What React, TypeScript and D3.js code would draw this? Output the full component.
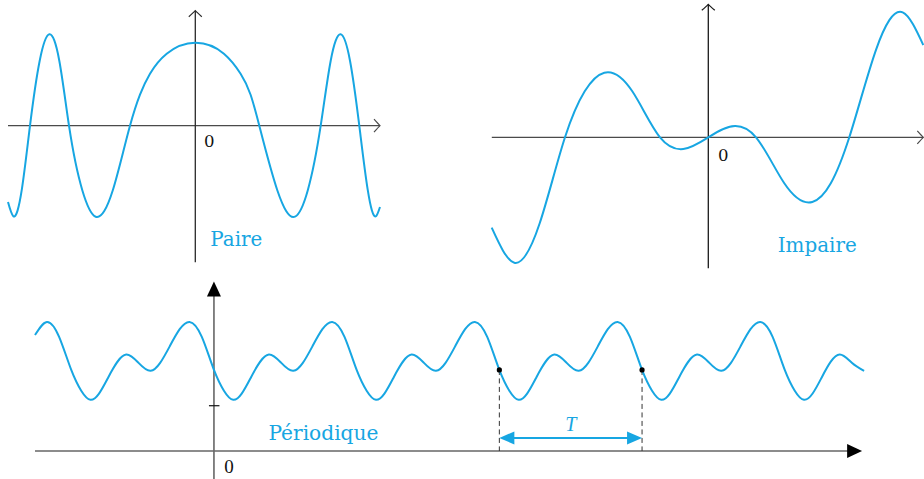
import React from 'react';
import * as d3 from 'd3';

const BLUE = '#17a6e2';

// ---- Even function ("Paire") : x, y in plot units
const paireX = [-3.746, -3.64, -3.47, -3.306, -3.112, -2.92, -2.72, -2.526, -2.26, -1.992, -1.65, -1.306, -1.106, -0.906, -0.572, 0,
  0.572, 0.906, 1.106, 1.28, 1.64, 1.994, 2.25, 2.508, 2.708, 2.908, 3.094, 3.28, 3.448, 3.614, 3.694];
const paireY = [-1.526, -1.81, -1.28, 0, 1.3, 1.828, 1.3, 0, -1.29, -1.82, -1.29, 0, 0.62, 1.04, 1.44, 1.66,
  1.44, 1.04, 0.62, 0, -1.29, -1.82, -1.29, 0, 1.3, 1.828, 1.3, 0, -1.28, -1.81, -1.626];

// ---- Odd function ("Impaire")
const impaireX = [-4.332, -3.88, -3.372, -2.866, -2.472, -2.08, -1.52, -0.966, -0.5, 0,
  0.534, 0.954, 1.52, 2.08, 2.45, 2.82, 3.354, 3.888, 4.3];
const impaireY = [-1.808, -2.508, -1.72, 0, 0.92, 1.292, 0.92, 0, -0.234, 0,
  0.226, 0, -0.92, -1.294, -0.92, 0, 1.75, 2.5, 1.846];

// ---- Periodic function (x in periods T, y in tick units)
const periodicX = [-1.254, -1.171, -1.085,
  -1, -0.93, -0.865, -0.74, -0.615, -0.53, -0.444, -0.31, -0.171, -0.085,
  0, 0.07, 0.135, 0.26, 0.385, 0.47, 0.556, 0.69, 0.829, 0.915,
  1, 1.07, 1.135, 1.26, 1.385, 1.47, 1.556, 1.69, 1.829, 1.915,
  2, 2.07, 2.135, 2.26, 2.385, 2.47, 2.556, 2.69, 2.829, 2.915,
  3, 3.07, 3.135, 3.26, 3.385, 3.47, 3.556, 3.69, 3.829, 3.915,
  4, 4.07, 4.135, 4.26, 4.385, 4.47, 4.556];
const periodicY = [2.56, 2.85, 2.52,
  1.79, 1.33, 1.13, 1.63, 2.13, 1.95, 1.77, 2.31, 2.85, 2.52,
  1.79, 1.33, 1.13, 1.63, 2.13, 1.95, 1.77, 2.31, 2.85, 2.52,
  1.79, 1.33, 1.13, 1.63, 2.13, 1.95, 1.77, 2.31, 2.85, 2.52,
  1.79, 1.33, 1.13, 1.63, 2.13, 1.95, 1.77, 2.31, 2.85, 2.52,
  1.79, 1.33, 1.13, 1.63, 2.13, 1.95, 1.77, 2.31, 2.85, 2.52,
  1.79, 1.33, 1.13, 1.63, 2.13, 1.95, 1.77];
const markedX = [2, 3];
const markedY = 1.79;
const tickY = 1;
const periodArrowY = 0.29;

const labels = { paire: 'Paire', impaire: 'Impaire', periodique: 'Périodique', zero: '0', period: 'T' };

function zip(xs: number[], ys: number[]) {
  return xs.map((x, i) => [x, ys[i]] as [number, number]);
}

// d3 curve factory: natural cubic spline with y as a function of x (non-uniform knots)
function curveNaturalX(context: any) {
  let xs: number[] = [];
  let ys: number[] = [];
  return {
    areaStart() {},
    areaEnd() {},
    lineStart() { xs = []; ys = []; },
    point(x: number, y: number) { xs.push(+x); ys.push(+y); },
    lineEnd() {
      const n = xs.length;
      if (!n) return;
      context.moveTo(xs[0], ys[0]);
      if (n === 1) return;
      if (n === 2) { context.lineTo(xs[1], ys[1]); return; }
      const h: number[] = [], d: number[] = [];
      for (let i = 0; i < n - 1; i++) { h[i] = xs[i + 1] - xs[i]; d[i] = (ys[i + 1] - ys[i]) / h[i]; }
      const M = new Array(n).fill(0);
      const a: number[] = [], b: number[] = [], c: number[] = [], r: number[] = [];
      for (let i = 1; i < n - 1; i++) {
        a[i] = h[i - 1]; b[i] = 2 * (h[i - 1] + h[i]); c[i] = h[i]; r[i] = 6 * (d[i] - d[i - 1]);
      }
      for (let i = 2; i < n - 1; i++) {
        const w = a[i] / b[i - 1];
        b[i] -= w * c[i - 1];
        r[i] -= w * r[i - 1];
      }
      for (let i = n - 2; i >= 1; i--) {
        M[i] = (r[i] - (i < n - 2 ? c[i] * M[i + 1] : 0)) / b[i];
      }
      const m: number[] = [];
      for (let i = 0; i < n - 1; i++) m[i] = d[i] - h[i] * (2 * M[i] + M[i + 1]) / 6;
      m[n - 1] = d[n - 2] + h[n - 2] * (M[n - 2] + 2 * M[n - 1]) / 6;
      for (let i = 0; i < n - 1; i++) {
        const t = h[i] / 3;
        context.bezierCurveTo(xs[i] + t, ys[i] + m[i] * t, xs[i + 1] - t, ys[i + 1] - m[i + 1] * t, xs[i + 1], ys[i + 1]);
      }
    },
  };
}

function openArrowRight(x: number, y: number) {
  return `M${x - 6},${y - 6.5} Q${x - 1.5},${y - 1.5} ${x},${y} Q${x - 1.5},${y + 1.5} ${x - 6},${y + 6.5}`;
}
function openArrowUp(x: number, y: number) {
  return `M${x - 6.5},${y + 6} Q${x - 1.5},${y + 1.5} ${x},${y} Q${x + 1.5},${y + 1.5} ${x + 6.5},${y + 6}`;
}

export default function App() {
  const pX = d3.scaleLinear().domain([-3.746, 3.694]).range([8, 380]);
  const pY = d3.scaleLinear().domain([-2.73, 2.3]).range([262.2, 10.7]);
  const iX = d3.scaleLinear().domain([-4.33, 4.3]).range([491.8, 923.3]);
  const iY = d3.scaleLinear().domain([-2.62, 2.66]).range([268.3, 4.3]);
  const qX = d3.scaleLinear().domain([-1.254, 4.542]).range([35, 862.1]);
  const qY = d3.scaleLinear().domain([-0.62, 3.74]).range([479.1, 281.6]);

  const lineP = d3.line<[number, number]>().x(d => pX(d[0])).y(d => pY(d[1])).curve(curveNaturalX as any);
  const lineI = d3.line<[number, number]>().x(d => iX(d[0])).y(d => iY(d[1])).curve(curveNaturalX as any);
  const lineQ = d3.line<[number, number]>().x(d => qX(d[0])).y(d => qY(d[1])).curve(curveNaturalX as any);

  const pdx = pX.domain(), pdy = pY.domain();
  const idx = iX.domain(), idy = iY.domain();
  const qdx = qX.domain(), qdy = qY.domain();

  const axisGray = '#4a4a4a';
  const qAxis = '#666';
  const y0q = qY(0);
  const xTip = qX(qdx[1]);
  const yTip = qY(qdy[1]);
  const ay = qY(periodArrowY);
  const ax1 = qX(markedX[0]);
  const ax2 = qX(markedX[1]);

  return (
    <div style={{ position: 'fixed', left: 0, top: 0 }}>
      <svg width={924} height={479} style={{ display: 'block', background: '#fff' }}>
        {/* ---------- Paire ---------- */}
        <g>
          <line x1={pX(pdx[0])} x2={pX(pdx[1])} y1={pY(0)} y2={pY(0)} stroke={axisGray} strokeWidth={1.3} />
          <path d={openArrowRight(pX(pdx[1]), pY(0))} fill="none" stroke={axisGray} strokeWidth={1.2} />
          <line x1={pX(0)} x2={pX(0)} y1={pY(pdy[0])} y2={pY(pdy[1])} stroke="#2a2a2a" strokeWidth={1.3} />
          <path d={openArrowUp(pX(0), pY(pdy[1]))} fill="none" stroke="#2a2a2a" strokeWidth={1.2} />
          <path d={lineP(zip(paireX, paireY)) || ''} fill="none" stroke={BLUE} strokeWidth={2} />
          <text x={pX(0) + 14} y={pY(0) + 21.5} textAnchor="middle" fontFamily="DejaVu Serif" fontSize={16.5} fill="#111">{labels.zero}</text>
          <text x={pX(0) + 15} y={pY(0) + 120} fontFamily="DejaVu Serif" fontSize={20.5} fill={BLUE} textLength={52} lengthAdjust="spacingAndGlyphs">{labels.paire}</text>
        </g>

        {/* ---------- Impaire ---------- */}
        <g>
          <line x1={iX(idx[0])} x2={iX(idx[1])} y1={iY(0)} y2={iY(0)} stroke={axisGray} strokeWidth={1.3} />
          <path d={openArrowRight(iX(idx[1]), iY(0))} fill="none" stroke={axisGray} strokeWidth={1.2} />
          <line x1={iX(0)} x2={iX(0)} y1={iY(idy[0])} y2={iY(idy[1])} stroke="#1a1a1a" strokeWidth={1.3} />
          <path d={openArrowUp(iX(0), iY(idy[1]))} fill="none" stroke="#1a1a1a" strokeWidth={1.2} />
          <path d={lineI(zip(impaireX, impaireY)) || ''} fill="none" stroke={BLUE} strokeWidth={2} />
          <text x={iX(0) + 15} y={iY(0) + 23.3} textAnchor="middle" fontFamily="DejaVu Serif" fontSize={16.5} fill="#111">{labels.zero}</text>
          <text x={iX(0) + 69.4} y={iY(0) + 115} fontFamily="DejaVu Serif" fontSize={20} fill={BLUE} textLength={79} lengthAdjust="spacingAndGlyphs">{labels.impaire}</text>
        </g>

        {/* ---------- Périodique ---------- */}
        <g>
          <line x1={qX(qdx[0])} x2={xTip - 10} y1={y0q} y2={y0q} stroke={qAxis} strokeWidth={1.6} />
          <path d={`M${xTip},${y0q} L${xTip - 15},${y0q - 7} L${xTip - 15},${y0q + 7} Z`} fill="#000" />
          <line x1={qX(0)} x2={qX(0)} y1={qY(qdy[0])} y2={yTip + 10} stroke={qAxis} strokeWidth={1.6} />
          <path d={`M${qX(0)},${yTip} L${qX(0) - 7},${yTip + 15} L${qX(0) + 7},${yTip + 15} Z`} fill="#000" />
          <line x1={qX(0) - 5} x2={qX(0) + 5.5} y1={qY(tickY)} y2={qY(tickY)} stroke="#111" strokeWidth={1.2} />
          <text x={qX(0) + 15} y={y0q + 22} textAnchor="middle" fontFamily="Liberation Serif" fontSize={19} fill="#111">{labels.zero}</text>

          {markedX.map((mx, i) => (
            <line key={'d' + i} x1={qX(mx)} x2={qX(mx)} y1={qY(markedY)} y2={y0q} stroke="#333" strokeWidth={1} strokeDasharray="5,3.5" />
          ))}
          <path d={lineQ(zip(periodicX, periodicY)) || ''} fill="none" stroke={BLUE} strokeWidth={2} />
          {markedX.map((mx, i) => (
            <circle key={'c' + i} cx={qX(mx)} cy={qY(markedY)} r={2.6} fill="#000" />
          ))}

          <line x1={ax1 + 10} x2={ax2 - 10} y1={ay} y2={ay} stroke={BLUE} strokeWidth={2} />
          <path d={`M${ax1},${ay} L${ax1 + 15},${ay - 6.5} L${ax1 + 15},${ay + 6.5} Z`} fill={BLUE} />
          <path d={`M${ax2},${ay} L${ax2 - 15},${ay - 6.5} L${ax2 - 15},${ay + 6.5} Z`} fill={BLUE} />
          <text x={(ax1 + ax2) / 2} y={qY(periodArrowY) - 7} textAnchor="middle" fontFamily="Liberation Serif" fontStyle="italic" fontSize={20} fill={BLUE}>{labels.period}</text>

          <text x={qX(0) + 54.5} y={y0q - 11.5} fontFamily="DejaVu Serif" fontSize={20.5} fill={BLUE} textLength={110} lengthAdjust="spacingAndGlyphs">{labels.periodique}</text>
        </g>
      </svg>
    </div>
  );
}
